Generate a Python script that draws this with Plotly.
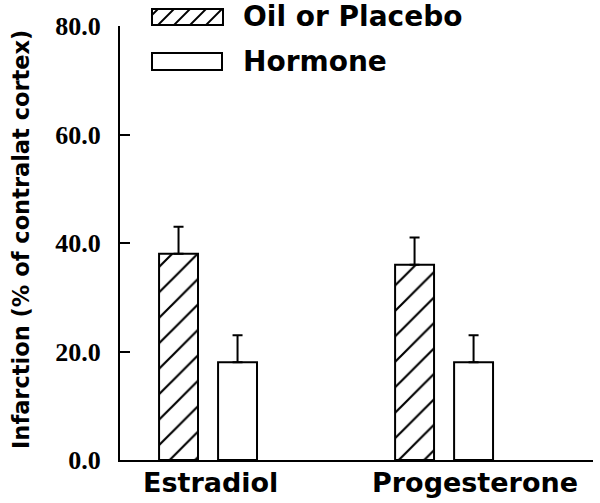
import plotly.graph_objects as go

# ---- data ----
categories = ["Estradiol", "Progesterone"]
oil_values = [38.0, 36.0]
oil_errors = [5.0, 5.0]
hormone_values = [18.0, 18.0]
hormone_errors = [5.0, 5.0]
series_names = ["Oil or Placebo", "Hormone"]
y_ticks = [0, 20, 40, 60, 80]

W, H = 600, 503
ML, MR, MT, MB = 120, 7, 26, 43
PW, PH = W - ML - MR, H - MT - MB


def px2paper(px, py):
    return (px - ML) / PW, (H - MB - py) / PH


fig = go.Figure()
fig.add_trace(go.Bar(
    x=categories, y=oil_values, name=series_names[0],
    marker=dict(color="white", line=dict(color="black", width=2),
                pattern=dict(shape="/", fgcolor="black", bgcolor="white", fgopacity=1,
                             fillmode="replace", size=18, solidity=0.12)),
    error_y=dict(type="data", array=oil_errors, arrayminus=[0] * len(oil_errors),
                 symmetric=False, color="black", thickness=2, width=5),
    showlegend=False,
))
fig.add_trace(go.Bar(
    x=categories, y=hormone_values, name=series_names[1],
    marker=dict(color="white", line=dict(color="black", width=2)),
    error_y=dict(type="data", array=hormone_errors, arrayminus=[0] * len(hormone_errors),
                 symmetric=False, color="black", thickness=2, width=5),
    showlegend=False,
))

shapes = []
# legend boxes (custom, drawn in paper space)
bx0, bx1 = 152, 223
hy0, hy1 = 9, 25
x0p, y0p = px2paper(bx0, hy0)
x1p, y1p = px2paper(bx1, hy1)
shapes.append(dict(type="rect", xref="paper", yref="paper", x0=x0p, x1=x1p, y0=y1p, y1=y0p,
                   line=dict(color="black", width=2), fillcolor="white", layer="above"))
# hatch lines "/" clipped to box: x + y = k
segs = []
k = bx0 + hy0 + 6
step = 16
while k < bx1 + hy1:
    pts = []
    for yy in (hy0, hy1):
        xx = k - yy
        if bx0 <= xx <= bx1:
            pts.append((xx, yy))
    for xx in (bx0, bx1):
        yy = k - xx
        if hy0 < yy < hy1:
            pts.append((xx, yy))
    if len(pts) >= 2:
        (ax, ay), (bx, by) = pts[0], pts[1]
        pa = px2paper(ax, ay)
        pb = px2paper(bx, by)
        segs.append(f"M{pa[0]},{pa[1]} L{pb[0]},{pb[1]}")
    k += step
shapes.append(dict(type="path", xref="paper", yref="paper", path=" ".join(segs),
                   line=dict(color="black", width=1.8), layer="above"))

ry0, ry1 = 53, 70
a = px2paper(bx0, ry0)
b = px2paper(bx1 - 1, ry1)
shapes.append(dict(type="rect", xref="paper", yref="paper", x0=a[0], x1=b[0], y0=b[1], y1=a[1],
                   line=dict(color="black", width=2), fillcolor="white", layer="above"))

legend_font = dict(family="DejaVu Sans", size=28, color="black", weight="bold")
annotations = []
for name, cy in zip(series_names, (17, 61)):
    p = px2paper(241, cy)
    annotations.append(dict(text=name, xref="paper", yref="paper", x=p[0], y=p[1],
                            xanchor="left", yanchor="middle", showarrow=False, font=legend_font))

# x category labels
xlabel_font = dict(family="DejaVu Sans", size=27, color="black", weight="bold")
label_shift = [2, 31]
for cat, sh in zip(categories, label_shift):
    annotations.append(dict(text=cat, xref="x", yref="paper", x=cat, y=0, yanchor="top",
                            xanchor="center", xshift=sh, yshift=-5, showarrow=False,
                            font=xlabel_font))

# y title
tp = px2paper(21, 240)
annotations.append(dict(text="Infarction (% of contralat cortex)", xref="paper", yref="paper",
                        x=tp[0], y=tp[1], textangle=-90, showarrow=False,
                        xanchor="center", yanchor="middle",
                        font=dict(family="DejaVu Sans", size=22.5, color="black", weight="bold")))

fig.update_layout(
    width=W, height=H,
    margin=dict(l=ML, r=MR, t=MT, b=MB, pad=0),
    paper_bgcolor="white", plot_bgcolor="white",
    barmode="group", bargap=0.5, bargroupgap=0.34,
    shapes=shapes, annotations=annotations,
    showlegend=False,
    xaxis=dict(range=[-0.373, 1.631], showline=True, linecolor="black", linewidth=2,
               ticks="", showticklabels=False, showgrid=False, zeroline=False,
               fixedrange=True),
    yaxis=dict(range=[0, 80], tickvals=y_ticks, tickformat=".1f", showline=True,
               linecolor="black", linewidth=2, ticks="inside", ticklen=10, tickwidth=2,
               tickcolor="black", showgrid=False, zeroline=False, ticklabelstandoff=12,
               tickfont=dict(family="Liberation Serif", size=26, color="black", weight="bold"),
               fixedrange=True),
)

fig.write_html("out.html", config={"displayModeBar": False},
               post_script="document.body.style.margin='0';")
